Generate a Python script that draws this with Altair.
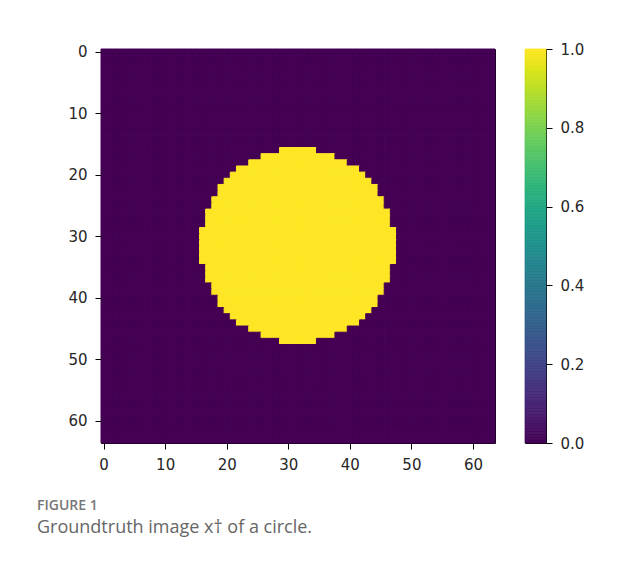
import altair as alt
import numpy as np
import pandas as pd

# ---- data ----
N = 64
circle_rows = list(range(16, 48))
circle_start = [29, 26, 24, 22, 21, 20, 19, 19, 18, 18, 17, 17, 17, 16, 16, 16,
                16, 16, 16, 17, 17, 17, 18, 18, 19, 19, 20, 21, 22, 24, 26, 29]
circle_end = [34, 37, 39, 41, 42, 43, 44, 44, 45, 45, 46, 46, 46, 47, 47, 47,
              47, 47, 47, 46, 46, 46, 45, 45, 44, 44, 43, 42, 41, 39, 37, 34]
tick_values = [0, 10, 20, 30, 40, 50, 60]
cbar_ticks = [0.0, 0.2, 0.4, 0.6, 0.8, 1.0]

extent = {r: (s, e) for r, s, e in zip(circle_rows, circle_start, circle_end)}
records = []
for r in range(N):
    s, e = extent.get(r, (N, -1))
    for c in range(N):
        records.append({"row": r, "col": c, "v": 1.0 if s <= c <= e else 0.0})
df = pd.DataFrame(records)

levels = np.linspace(0, 1, 257)
cb = pd.DataFrame({"lo": levels[:-1], "hi": levels[1:],
                   "mid": (levels[:-1] + levels[1:]) / 2})

cscale = alt.Scale(scheme="viridis", domain=[0, 1])

heat = alt.Chart(df).mark_rect(strokeWidth=1.0).encode(
    x=alt.X("col:O", scale=alt.Scale(paddingInner=0, paddingOuter=0),
            axis=alt.Axis(values=tick_values, labelAngle=0, title=None)),
    y=alt.Y("row:O", scale=alt.Scale(paddingInner=0, paddingOuter=0),
            axis=alt.Axis(values=tick_values, title=None)),
    color=alt.Color("v:Q", scale=cscale, legend=None),
    stroke=alt.Stroke("v:Q", scale=cscale, legend=None),
).properties(width=394, height=394)

cbar = alt.Chart(cb).mark_rect(strokeWidth=0.8).encode(
    x=alt.value(0), x2=alt.value(21),
    y=alt.Y("lo:Q", scale=alt.Scale(domain=[0, 1], nice=False, zero=False),
            axis=alt.Axis(orient="right", values=cbar_ticks, format=".1f", title=None)),
    y2="hi",
    color=alt.Color("mid:Q", scale=cscale, legend=None),
    stroke=alt.Stroke("mid:Q", scale=cscale, legend=None),
).properties(width=21, height=394)

chart = alt.hconcat(heat, cbar, spacing=30, bounds="flush").resolve_scale(
    color="independent", stroke="independent"
).properties(
    title=alt.TitleParams(
        text="FIGURE 1",
        subtitle="Groundtruth image x\u2020 of a circle.",
        orient="bottom", anchor="start", frame="group", dx=-64, offset=26,
        font="Open Sans", fontSize=14, fontWeight=600, color="#777777",
        subtitleFont="Open Sans", subtitleFontSize=18, subtitleColor="#666666",
        subtitlePadding=6,
    ),
    padding={"left": 29, "top": 33, "right": 10, "bottom": 10},
    background="white",
).configure_view(
    stroke="black", strokeWidth=1
).configure_axis(
    labelFont="DejaVu Sans", labelFontSize=15, labelColor="#262626",
    tickColor="black", tickSize=6, tickWidth=1, labelPadding=8,
    domain=False, grid=False,
)

chart.save("out.html", embed_options={"renderer": "svg", "actions": False})
